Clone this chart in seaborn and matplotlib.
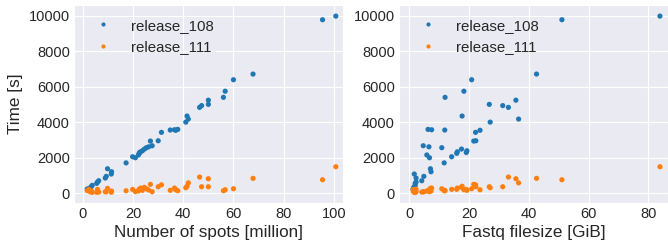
import pandas as pd
import matplotlib
matplotlib.use("Agg")
import matplotlib.pyplot as plt
import seaborn as sns

# --- Data (one entry per sample) ---
spots_million = [100.8, 95.5, 67.8, 60.0, 56.7, 56.0, 50.0, 50.0, 47.3, 46.5,
                 41.5, 42.0, 41.0, 37.8, 36.5, 34.8, 37.0, 31.3, 30.0, 26.9,
                 27.6, 26.2, 25.3, 24.5, 23.7, 23.0, 22.6, 22.4, 22.1, 19.8,
                 20.9, 17.2, 9.8, 11.4, 11.3, 9.3, 8.9, 6.3, 5.8, 5.5,
                 3.7, 3.3, 2.9, 2.3, 1.7]
filesize_gib = [83.9, 51.1, 42.6, 20.9, 18.3, 12.0, 35.7, 26.8, 31.3, 33.2,
                17.7, 36.6, 27.1, 6.3, 7.5, 11.9, 23.7, 22.2, 22.3, 21.6,
                4.7, 6.6, 10.9, 17.5, 19.3, 16.1, 19.1, 15.9, 5.9, 14.2,
                6.8, 11.7, 7.1, 7.3, 1.7, 4.9, 2.3, 4.2, 2.3, 2.0,
                2.0, 1.7, 1.5, 1.4, 1.3]
time_108 = [9980, 9775, 6716, 6396, 5750, 5405, 5245, 5010, 4940, 4840,
            4352, 4183, 4010, 3600, 3580, 3564, 3550, 3434, 2960, 2944,
            2680, 2620, 2570, 2494, 2398, 2340, 2300, 2252, 2160, 2060,
            2004, 1715, 1385, 1216, 1087, 957, 861, 709, 636, 563,
            450, 372, 315, 259, 242]
time_111 = [1498, 766, 844, 259, 202, 146, 822, 372, 372, 918,
            400, 590, 315, 146, 298, 169, 200, 480, 372, 507,
            90, 186, 259, 338, 169, 298, 225, 225, 130, 225,
            100, 146, 281, 130, 60, 90, 90, 73, 225, 60,
            56, 146, 90, 225, 150]

df = pd.DataFrame({
    "spots": spots_million,
    "size": filesize_gib,
    "release_108": time_108,
    "release_111": time_111,
})
long_df = df.melt(id_vars=["spots", "size"], value_vars=["release_108", "release_111"],
                  var_name="release", value_name="time")

# --- Style ---
sns.set_style("darkgrid")
plt.rcParams["font.family"] = ["Liberation Sans", "DejaVu Sans"]

palette = {"release_108": "#1f77b4", "release_111": "#ff7f0e"}

fig, axes = plt.subplots(1, 2, figsize=(6.68, 2.42), dpi=100)
fig.subplots_adjust(left=0.111, right=1.0, top=0.979, bottom=0.161, wspace=0.208)

panels = [("spots", "Number of spots [million]", (-3.5, 103.7)),
          ("size", "Fastq filesize [GiB]", (-3.4, 86.6))]

for ax, (xcol, xlabel, xlim) in zip(axes, panels):
    sns.scatterplot(data=long_df, x=xcol, y="time", hue="release", palette=palette,
                    s=14, linewidth=0, ax=ax)
    ax.set_xlabel(xlabel, fontsize=12.3, labelpad=3)
    ax.set_ylabel("")
    ax.set_xlim(*xlim)
    ax.set_ylim(-546, 10600)
    ax.set_yticks([0, 2000, 4000, 6000, 8000, 10000])
    ax.tick_params(labelsize=10.5, length=0, pad=3)
    ax.legend(loc="upper left", frameon=False, fontsize=10.8, markerscale=0.8,
              handletextpad=0.9)

axes[0].set_ylabel("Time [s]", fontsize=12.3)

fig.savefig("out.png", dpi=100)
